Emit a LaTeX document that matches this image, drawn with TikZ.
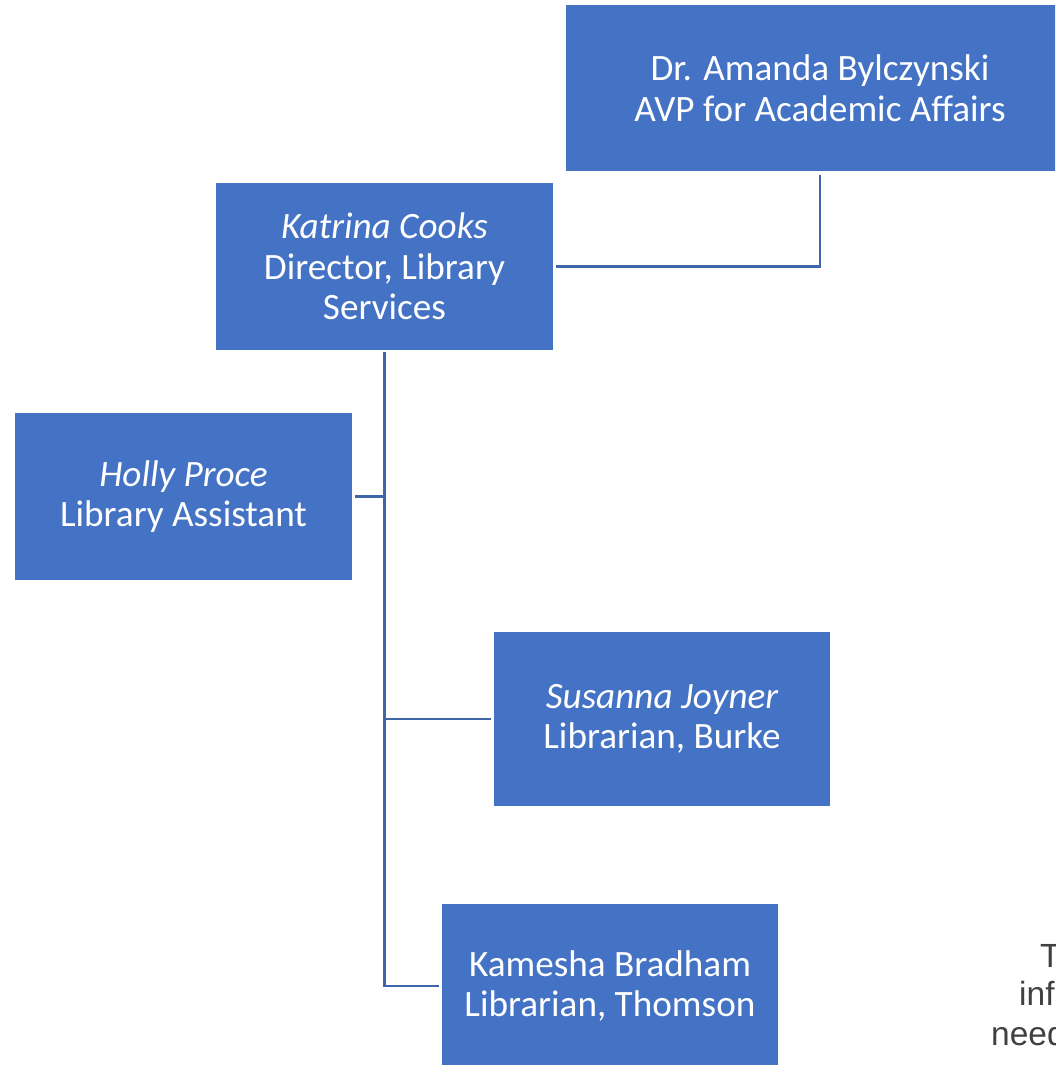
\documentclass[tikz,border=0pt]{standalone}
\usepackage{fontspec}
\setmainfont{Carlito}
\newfontfamily\notefont{Liberation Sans}
\definecolor{boxblue}{HTML}{4472C4}
\definecolor{lineblue}{HTML}{4066AA}
\definecolor{notegray}{HTML}{404040}
\begin{document}
\begin{tikzpicture}[x=1pt,y=-1pt,
  person/.style={rectangle,fill=boxblue,draw=none,inner sep=0pt,text=white,align=center,
    font=\fontsize{37.2}{40.5}\selectfont},
  link/.style={draw=lineblue,line width=2.6pt},
  note/.style={anchor=base west,inner sep=0pt,text=notegray,font=\notefont\fontsize{33.5}{39}\selectfont}]
\useasboundingbox (0,0) rectangle (1055,1065);
\clip (0,0) rectangle (1055,1065);
\node[person,minimum width=508pt,minimum height=166pt] (amanda) at (820,88)
  {Dr. Amanda Bylczynski\\AVP for Academic Affairs};
\node[person,minimum width=337pt,minimum height=167pt] (katrina) at (384.5,266.5)
  {\itshape Katrina Cooks\\Director, Library\\Services};
\node[person,minimum width=337pt,minimum height=167pt] (holly) at (183.5,496.5)
  {\itshape Holly Proce\\Library Assistant};
\node[person,minimum width=336pt,minimum height=174pt] (susanna) at (662,719)
  {\itshape Susanna Joyner\\Librarian, Burke};
\node[person,minimum width=336pt,minimum height=164pt] (kamesha) at (610,986)
  {Kamesha Bradham\\Librarian, Thomson};
\draw[link] ([yshift=-4pt]amanda.south) |- ([xshift=3pt]katrina.east);
\draw[link] ([yshift=-2pt]katrina.south) |- ([xshift=-3pt]kamesha.west);
\draw[link] ([xshift=3pt]holly.east) -- (holly.east -| katrina.south);
\draw[link] ([xshift=-3pt]susanna.west) -- (susanna.west -| katrina.south);
\node[note] (n1) at (1040,967) {T};
\node[note] (n2) at (1019,1005) {inf};
\node[note] (n3) at (991,1045) {need};
\end{tikzpicture}
\end{document}
